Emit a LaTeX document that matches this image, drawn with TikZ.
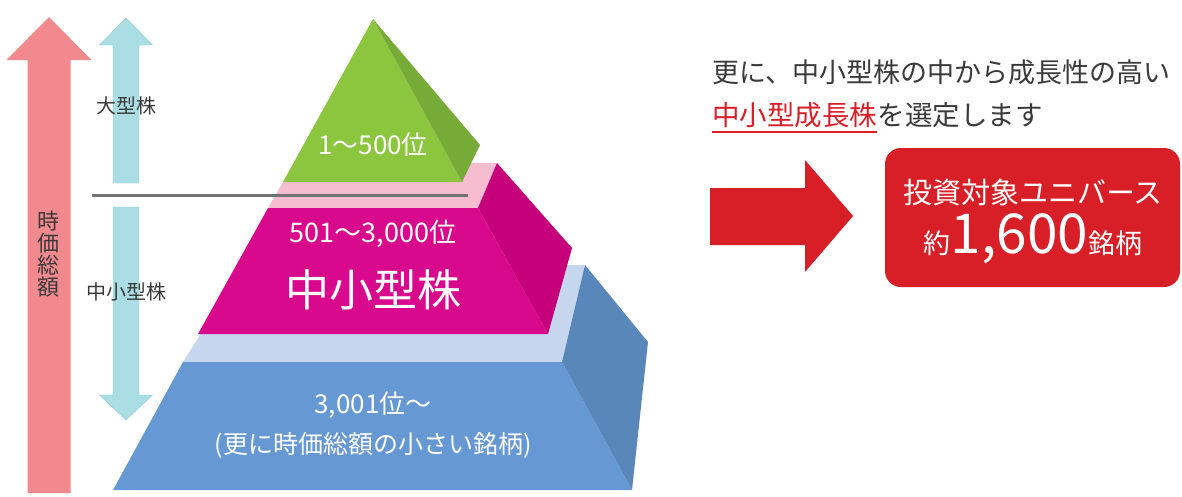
\documentclass[tikz,border=0pt]{standalone}
\usepackage{fontspec}
\setmainfont{Noto Sans CJK JP}
\definecolor{capred}{HTML}{F2898F}
\definecolor{sizecyan}{HTML}{AADDE4}
\definecolor{sizecyanline}{HTML}{8ECFDA}
\definecolor{topgreen}{HTML}{8CC63F}
\definecolor{topgreenside}{HTML}{77AB37}
\definecolor{midpinkband}{HTML}{F6BDD0}
\definecolor{midmagenta}{HTML}{D8098C}
\definecolor{midmagentaside}{HTML}{C6007A}
\definecolor{lowblueband}{HTML}{C6D6EE}
\definecolor{lowblue}{HTML}{6699D3}
\definecolor{lowblueside}{HTML}{5A87BA}
\definecolor{pickred}{HTML}{D81F27}
\definecolor{darktext}{HTML}{3A3A3A}
\def\fs#1{\fontsize{#1}{#1}\selectfont}
\def\shaftarrow#1#2#3#4#5#6{% {x}{start y}{head y}{tip y}{half shaft}{half head}
	(#1-#5,#2) -- (#1-#5,#3) -- (#1-#6,#3) -- (#1,#4) -- (#1+#6,#3) -- (#1+#5,#3) -- (#1+#5,#2) -- cycle
}
\begin{document}
\begin{tikzpicture}[x=1pt,y=-1pt,
	sizelabel/.style={text=darktext,inner sep=0pt,font=\fs{20}},
	pyrlabel/.style={text=white,inner sep=0pt,font=\fs{26}},
	boxtext/.style={text=white,inner sep=0pt},
	pickbox/.style={fill=pickred,rounded corners=16pt,minimum width=295pt,minimum height=139pt,inner sep=0pt}]
\useasboundingbox[fill=white] (0,0) rectangle (1182,496);

% arrows on the left
\fill[capred] \shaftarrow{49}{493}{60}{17}{21.5}{42.5};
\filldraw[sizecyan,draw=sizecyanline] \shaftarrow{126}{183}{45}{18}{13}{26.5};
\filldraw[sizecyan,draw=sizecyanline] \shaftarrow{126}{207}{395}{420}{13}{26.5};
\node[text=darktext,inner sep=0pt,align=center,font=\fs{22}] (capital) at (48,254) {時\\価\\総\\額};
\node[sizelabel] (large) at (126,106) {大型株};
\node[sizelabel] (midsmall) at (126,292) {中小型株};

% pyramid, bottom to top
\fill[lowblueband] (183,362) -- (562,362) -- (585,265) -- (244,265) -- cycle;
\fill[lowblue] (113,490) -- (183,362) -- (562,362) -- (632,490) -- cycle;
\fill[lowblueside] (562,362) -- (585,265) -- (648,342) -- (632,490) -- cycle;
\fill[midpinkband] (268,208) -- (478,208) -- (497,163) -- (294,163) -- cycle;
\fill[midmagenta] (198,334) -- (268,208) -- (478,208) -- (548,334) -- cycle;
\fill[midmagentaside] (478,208) -- (497,163) -- (572,248) -- (548,334) -- cycle;
\fill[topgreen] (373,19) -- (283,182) -- (462,182) -- cycle;
\fill[topgreenside] (373,19) -- (480,145) -- (462,182) -- cycle;
\draw[line width=3pt,gray!90!black] (92,195) -- (468,195);

\node[pyrlabel] (top) at (373,145) {1～500位};
\node[pyrlabel,font=\fs{27}] (midrank) at (373,234) {501～3,000位};
\node[pyrlabel,font=\fs{44}] (mid) at (373,290) {中小型株};
\node[pyrlabel,font=\fs{26}] (lowrank) at (373,405) {3,001位～};
\node[pyrlabel,font=\fs{25}] (low) at (373,445) {(更に時価総額の小さい銘柄)};

% right part
\node[text=darktext,inner sep=0pt,anchor=west,font=\fs{27}] (lead) at (712,72) {更に、中小型株の中から成長性の高い};
\node[text=pickred,inner sep=0pt,anchor=west,font=\fs{27.5}] (growth) at (712,115) {中小型成長株};
\node[text=darktext,inner sep=0pt,anchor=west,font=\fs{27.5}] (select) at (growth.east) {を選定します};
\draw[pickred,line width=2.5pt] ([yshift=-4pt]growth.south west) -- ([yshift=-4pt]growth.south east);

\fill[pickred] (710,188) -- (805,188) -- (805,160) -- (853,216) -- (805,272) -- (805,245) -- (710,245) -- cycle;
\node[pickbox] (universe) at (1032.5,217.5) {};
\node[boxtext,font=\fs{29}] (univname) at (1033,192) {投資対象ユニバース};
\node[boxtext,font=\fs{27}] (count) at (1033,239) {約{\fs{55}1,600}銘柄};
\end{tikzpicture}
\end{document}
